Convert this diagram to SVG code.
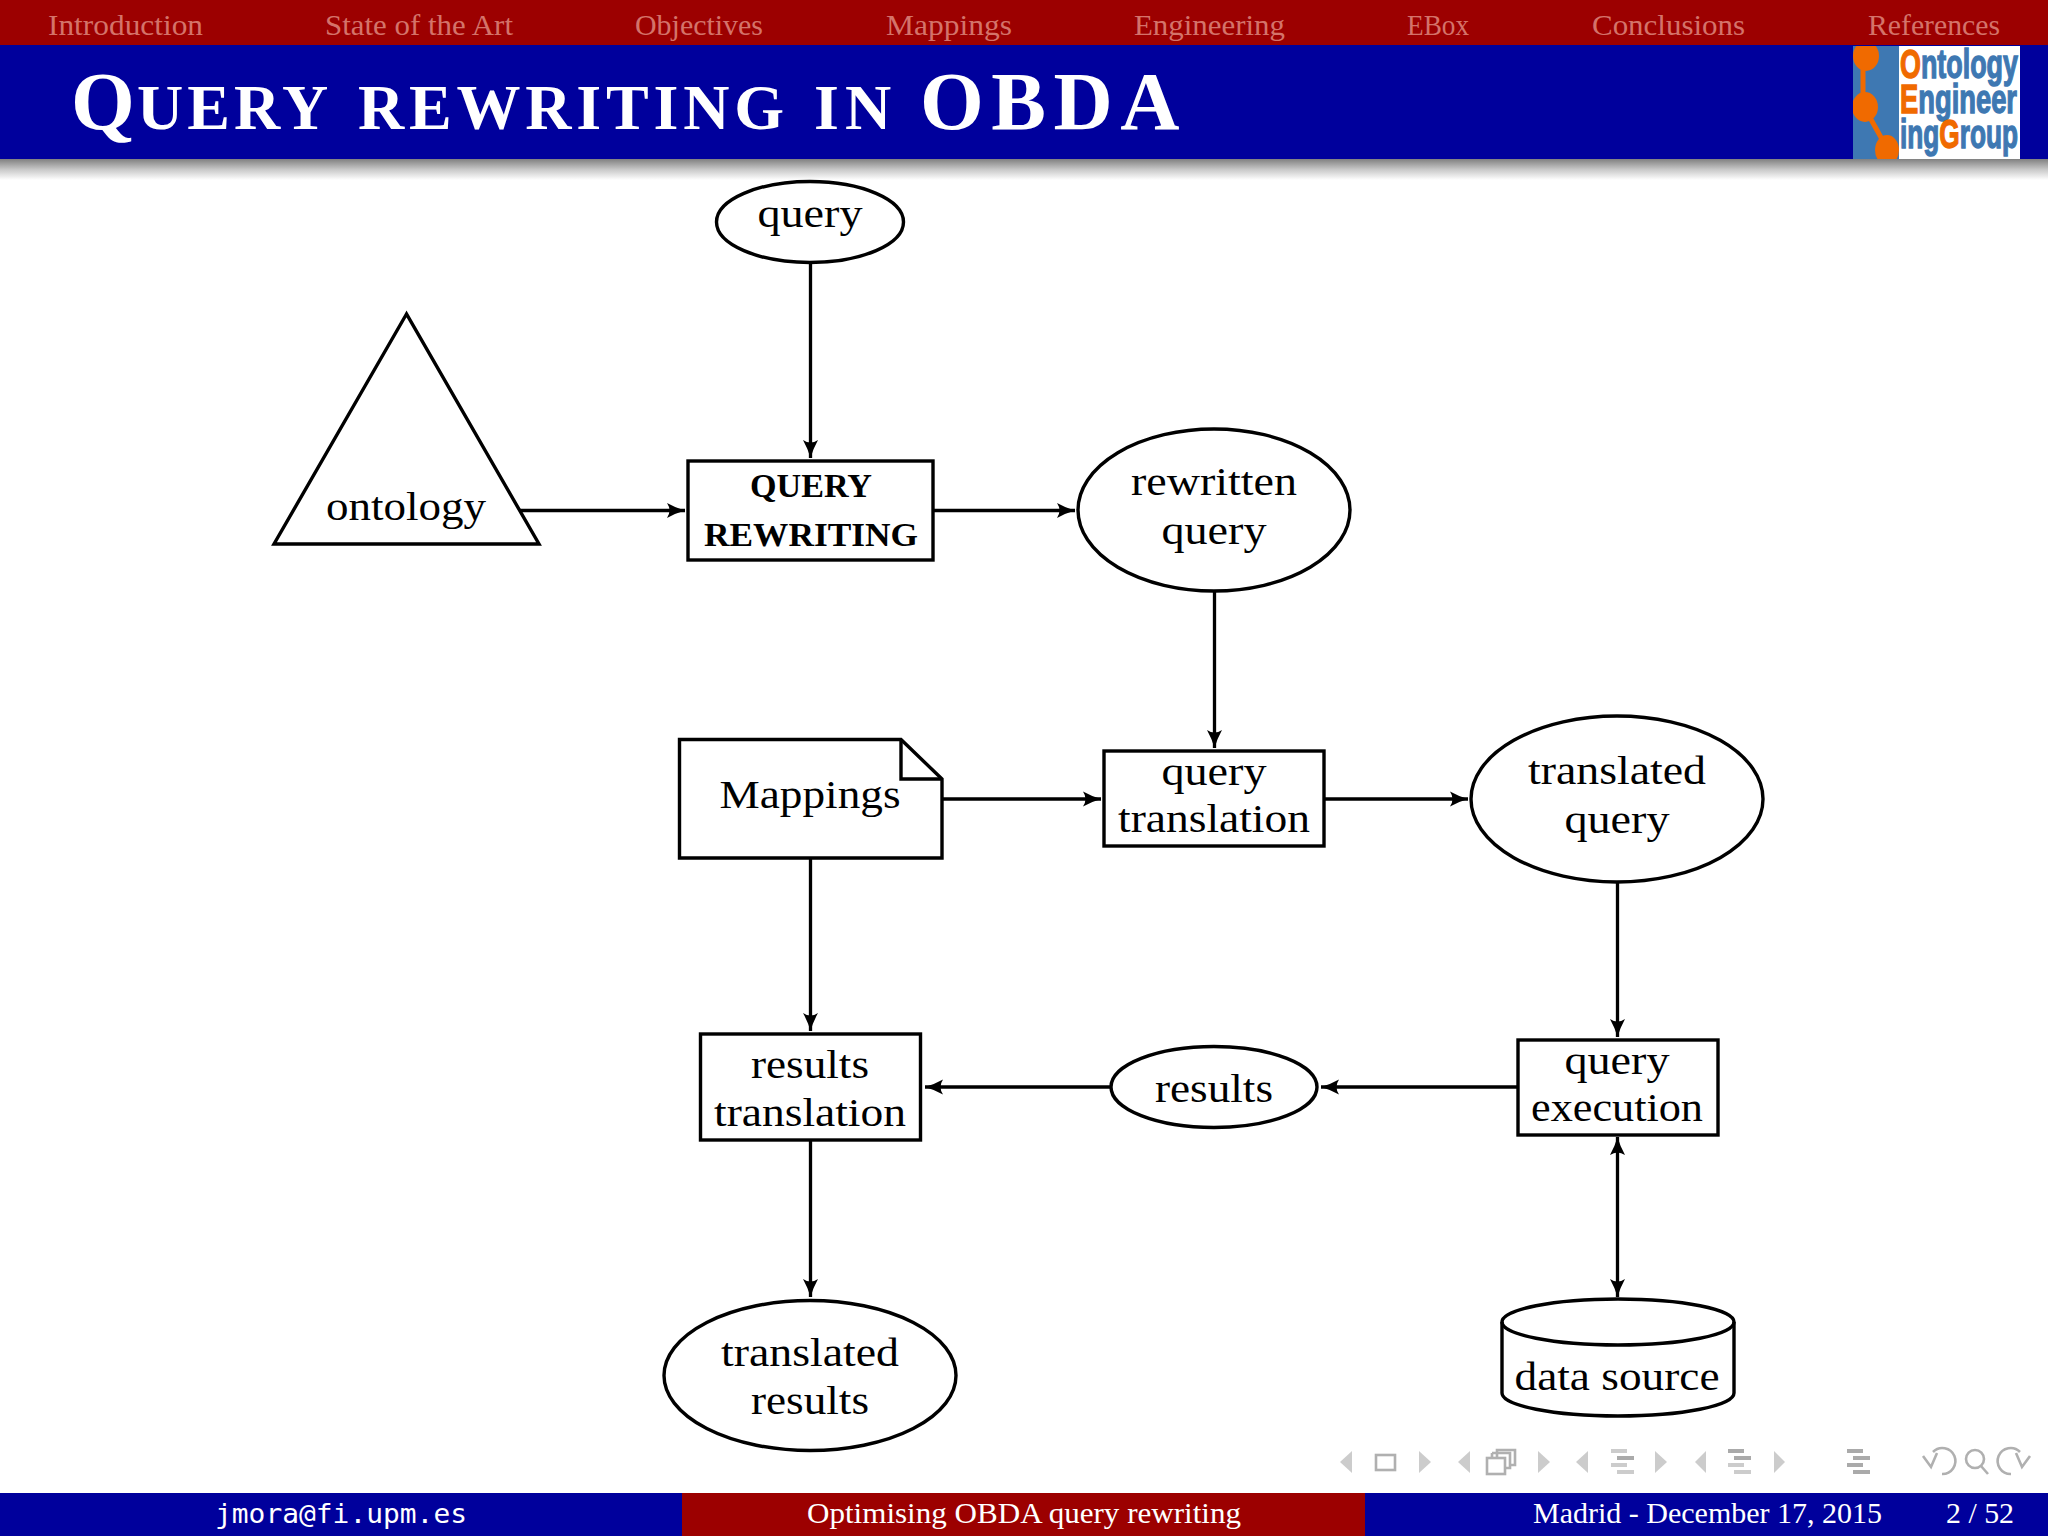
<svg xmlns="http://www.w3.org/2000/svg" width="2048" height="1536" viewBox="0 0 2048 1536">
<style>
.n{fill:#fff;stroke:#000;stroke-width:3.4}
.nf{fill:none;stroke:#000;stroke-width:3.4}
.t{font-family:"Liberation Serif",serif;font-size:41px;fill:#000;text-anchor:middle}
.b{font-family:"Liberation Serif",serif;font-size:33px;font-weight:bold;fill:#000;text-anchor:middle}
.nav{font-family:"Liberation Serif",serif;font-size:29px;fill:#d4736a}
.f{font-family:"Liberation Serif",serif;font-size:30px;fill:#fff}
.c line{stroke:#000;stroke-width:3.3;marker-end:url(#a)}
.lg{font-family:"Liberation Sans",sans-serif;font-weight:bold;font-size:30px;fill:#3e78b2;stroke:#3e78b2;stroke-width:1}
.o{fill:#f06a00;stroke:#f06a00}
.i1{fill:#ccc}.i2{fill:#aaa}
.is{fill:none;stroke:#b0b0b0;stroke-width:2.6}
.ti{font-family:"Liberation Serif",serif;font-weight:bold;font-size:64px;fill:#fff}
</style>
<defs>
<marker id="a" markerUnits="userSpaceOnUse" markerWidth="20" markerHeight="18" refX="18" refY="8" orient="auto"><path d="M0,0.5 Q9,5.5 18,8 Q9,10.5 0,15.5 Q5,8 0,0.5Z" fill="#000"/></marker>
<marker id="s" markerUnits="userSpaceOnUse" markerWidth="20" markerHeight="18" refX="0" refY="8" orient="auto"><path d="M18,0.5 Q9,5.5 0,8 Q9,10.5 18,15.5 Q13,8 18,0.5Z" fill="#000"/></marker>
<linearGradient id="sh" x1="0" y1="0" x2="0" y2="1"><stop offset="0" stop-color="#808080"/><stop offset=".5" stop-color="#c8c8c8"/><stop offset="1" stop-color="#fff"/></linearGradient>
<path id="ll" d="M0,0h16v4H0zM6,7h17v4H6zM0,14h16v4H0zM6,21h17v4H6z"/>
<path id="r2" d="M6,7h17v4H6z"/>
<path id="r1" d="M0,0h16v4H0zM6,7h17v4H6z"/>
</defs>
<rect width="2048" height="1536" fill="#fff"/>
<g id="header">
<rect width="2048" height="45" fill="#9c0000"/>
<rect y="45" width="2048" height="114" fill="#00009c"/>
<rect y="159" width="2048" height="21" fill="url(#sh)"/>
<text class="nav" x="48" y="35" textLength="155" lengthAdjust="spacingAndGlyphs">Introduction</text>
<text class="nav" x="325" y="35" textLength="188" lengthAdjust="spacingAndGlyphs">State of the Art</text>
<text class="nav" x="635" y="35" textLength="128" lengthAdjust="spacingAndGlyphs">Objectives</text>
<text class="nav" x="886" y="35" textLength="126" lengthAdjust="spacingAndGlyphs">Mappings</text>
<text class="nav" x="1134" y="35" textLength="151" lengthAdjust="spacingAndGlyphs">Engineering</text>
<text class="nav" x="1407" y="35" textLength="62" lengthAdjust="spacingAndGlyphs">EBox</text>
<text class="nav" x="1592" y="35" textLength="153" lengthAdjust="spacingAndGlyphs">Conclusions</text>
<text class="nav" x="1868" y="35" textLength="132" lengthAdjust="spacingAndGlyphs">References</text>
<text class="ti" y="129"><tspan x="71" font-size="82">Q</tspan><tspan x="137" letter-spacing="4">UERY</tspan> <tspan x="358" letter-spacing="4.8">REWRITING</tspan> <tspan x="814" letter-spacing="6">IN</tspan> <tspan x="920" font-size="82" letter-spacing="7.5">OBDA</tspan></text>
</g>
<g id="logo">
<rect x="1853" y="46" width="46" height="113" fill="#3e78b2"/>
<rect x="1899" y="46" width="121" height="113" fill="#fff"/>
<path d="M1863,60V105L1888,150" fill="none" stroke="#f06a00" stroke-width="5"/>
<clipPath id="lc"><rect x="1853" y="46" width="46" height="113"/></clipPath>
<g clip-path="url(#lc)" fill="#f06a00"><ellipse cx="1866" cy="56" rx="13" ry="15"/><ellipse cx="1865" cy="107" rx="13" ry="15"/><ellipse cx="1887" cy="150" rx="12" ry="15"/></g>
<text class="lg" transform="translate(1900,78) scale(1,1.35)" textLength="118" lengthAdjust="spacingAndGlyphs"><tspan class="o">O</tspan>ntology</text>
<text class="lg" transform="translate(1900,113) scale(1,1.35)" textLength="117" lengthAdjust="spacingAndGlyphs"><tspan class="o">E</tspan>ngineer</text>
<text class="lg" transform="translate(1900,148) scale(1,1.35)" textLength="118" lengthAdjust="spacingAndGlyphs">ing<tspan class="o">G</tspan>roup</text>
</g>
<g id="footer">
<rect y="1493" width="682" height="43" fill="#00009c"/>
<rect x="682" y="1493" width="683" height="43" fill="#9c0000"/>
<rect x="1365" y="1493" width="683" height="43" fill="#00009c"/>
<text x="215" y="1523" font-family="DejaVu Sans Mono,monospace" font-size="27" fill="#fff" textLength="252" lengthAdjust="spacingAndGlyphs">jmora@fi.upm.es</text>
<text class="f" x="807" y="1523" textLength="434" lengthAdjust="spacingAndGlyphs">Optimising OBDA query rewriting</text>
<text class="f" x="1533" y="1523" textLength="349" lengthAdjust="spacingAndGlyphs">Madrid - December 17, 2015</text>
<text class="f" x="1946" y="1523" textLength="68" lengthAdjust="spacingAndGlyphs">2 / 52</text>
</g>
<g id="navicons">
<path class="i1" d="M1352,1451V1473L1340,1462Z"/>
<rect class="is" x="1376" y="1455" width="19" height="15"/>
<path class="i1" d="M1419,1451V1473L1431,1462Z"/>
<path class="i1" d="M1470,1451V1473L1458,1462Z"/>
<path class="is" d="M1497,1458V1450H1515V1465H1510M1492,1458V1453M1492,1453H1510V1468H1505"/>
<rect class="is" x="1487" y="1458" width="18" height="16"/>
<path class="i1" d="M1538,1451V1473L1550,1462Z"/>
<path class="i1" d="M1588,1451V1473L1576,1462Z"/>
<use href="#ll" x="1611" y="1449" class="i1"/>
<use href="#r2" x="1611" y="1449" class="i2"/>
<path class="i1" d="M1655,1451V1473L1667,1462Z"/>
<path class="i1" d="M1706,1451V1473L1695,1462Z"/>
<use href="#ll" x="1728" y="1449" class="i1"/>
<use href="#r1" x="1728" y="1449" class="i2"/>
<path class="i1" d="M1774,1451V1473L1785,1462Z"/>
<use href="#ll" x="1847" y="1449" class="i2"/>
<path class="is" d="M1942,1474A13,13 0 1 0 1933,1452M1923,1456L1931,1467L1937,1453"/>
<circle class="is" cx="1975" cy="1459" r="9"/>
<path class="is" d="M1981,1466L1988,1474"/>
<path class="is" d="M2011,1474A13,13 0 1 1 2020,1452M2030,1456L2022,1467L2016,1453"/>
</g>
<g id="connectors" class="c">
<line x1="810.5" y1="263" x2="810.5" y2="458"/>
<line x1="520" y1="510.5" x2="685" y2="510.5"/>
<line x1="932" y1="510.5" x2="1075" y2="510.5"/>
<line x1="1214.5" y1="591" x2="1214.5" y2="748"/>
<line x1="942" y1="799" x2="1101" y2="799"/>
<line x1="1324" y1="799" x2="1468" y2="799"/>
<line x1="1617.5" y1="881" x2="1617.5" y2="1037"/>
<line x1="1518" y1="1087" x2="1321" y2="1087"/>
<line x1="1111" y1="1087" x2="925" y2="1087"/>
<line x1="810.5" y1="857" x2="810.5" y2="1031"/>
<line x1="810.5" y1="1140" x2="810.5" y2="1297"/>
<line x1="1617.5" y1="1137" x2="1617.5" y2="1297" marker-start="url(#s)"/>
</g>
<g id="n-query"><ellipse class="n" cx="810" cy="222" rx="93.5" ry="40.5"/><text class="t" x="810" y="227" textLength="105" lengthAdjust="spacingAndGlyphs">query</text></g>
<g id="n-ontology"><path class="n" d="M406.5,314L274,544H539Z"/><text class="t" x="406" y="520" textLength="160" lengthAdjust="spacingAndGlyphs">ontology</text></g>
<g id="n-rewriting"><rect class="n" x="688" y="461" width="245" height="99"/><text class="b" x="811" y="497" textLength="122" lengthAdjust="spacingAndGlyphs">QUERY</text><text class="b" x="811" y="546" textLength="214" lengthAdjust="spacingAndGlyphs">REWRITING</text></g>
<g id="n-rewritten"><ellipse class="n" cx="1214" cy="510" rx="136" ry="81"/><text class="t" x="1214" y="494.5" textLength="166" lengthAdjust="spacingAndGlyphs">rewritten</text><text class="t" x="1214" y="544" textLength="105" lengthAdjust="spacingAndGlyphs">query</text></g>
<g id="n-mappings"><path class="n" d="M679.5,739.5H901L942,779V858H679.5Z"/><path class="nf" d="M901,739.5V779H942"/><text class="t" x="810" y="808" textLength="181" lengthAdjust="spacingAndGlyphs">Mappings</text></g>
<g id="n-translation"><rect class="n" x="1104" y="751" width="220" height="95"/><text class="t" x="1214" y="784.5" textLength="105" lengthAdjust="spacingAndGlyphs">query</text><text class="t" x="1214" y="832" textLength="192" lengthAdjust="spacingAndGlyphs">translation</text></g>
<g id="n-tquery"><ellipse class="n" cx="1617" cy="799" rx="146" ry="83"/><text class="t" x="1617" y="783.5" textLength="178" lengthAdjust="spacingAndGlyphs">translated</text><text class="t" x="1617" y="833" textLength="105" lengthAdjust="spacingAndGlyphs">query</text></g>
<g id="n-rtranslation"><rect class="n" x="700.5" y="1034" width="220" height="106"/><text class="t" x="810" y="1077.5" textLength="118" lengthAdjust="spacingAndGlyphs">results</text><text class="t" x="810" y="1126" textLength="192" lengthAdjust="spacingAndGlyphs">translation</text></g>
<g id="n-results"><ellipse class="n" cx="1214" cy="1087" rx="103" ry="40.5"/><text class="t" x="1214" y="1102" textLength="118" lengthAdjust="spacingAndGlyphs">results</text></g>
<g id="n-execution"><rect class="n" x="1518" y="1040" width="200" height="95"/><text class="t" x="1617" y="1074" textLength="105" lengthAdjust="spacingAndGlyphs">query</text><text class="t" x="1617" y="1121" textLength="172" lengthAdjust="spacingAndGlyphs">execution</text></g>
<g id="n-datasource"><path class="n" d="M1502,1322A116,23 0 0 1 1734,1322V1393A116,23 0 0 1 1502,1393Z"/><path class="nf" d="M1502,1322A116,23 0 0 0 1734,1322"/><text class="t" x="1617" y="1390" textLength="205" lengthAdjust="spacingAndGlyphs">data source</text></g>
<g id="n-tresults"><ellipse class="n" cx="810" cy="1375.5" rx="146" ry="75"/><text class="t" x="810" y="1365.5" textLength="178" lengthAdjust="spacingAndGlyphs">translated</text><text class="t" x="810" y="1414" textLength="118" lengthAdjust="spacingAndGlyphs">results</text></g>
</svg>
